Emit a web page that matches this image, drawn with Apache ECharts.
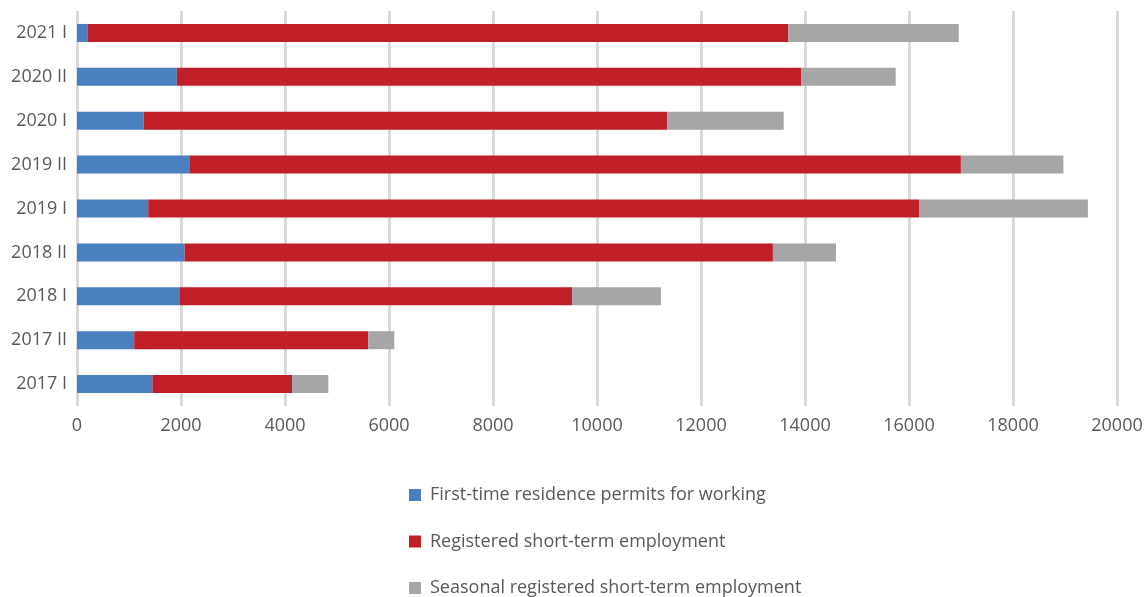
<!DOCTYPE html>
<html>
<head>
<meta charset="utf-8">
<script src="https://cdn.jsdelivr.net/npm/echarts@6/dist/echarts.min.js"></script>
<style>
html,body{margin:0;padding:0;background:#fff;}
#c{width:1148px;height:597px;}
</style>
</head>
<body>
<div id="c"></div>
<script>
const categories = ['2017 I','2017 II','2018 I','2018 II','2019 I','2019 II','2020 I','2020 II','2021 I'];
const seriesNames = ['First-time residence permits for working','Registered short-term employment','Seasonal registered short-term employment'];
const permits = [1450, 1100, 1980, 2070, 1370, 2160, 1280, 1920, 200];
const shortTerm = [2685, 4502, 7541, 11313, 14822, 14838, 10068, 12005, 13479];
const seasonal = [698, 500, 1708, 1213, 3248, 1971, 2242, 1819, 3278];
const colors = ['#4a7fc0', '#c01f27', '#a6a6a6'];

const chart = echarts.init(document.getElementById('c'), null, {renderer:'canvas'});
const font = '"Open Sans", sans-serif';
const values = [permits, shortTerm, seasonal];
chart.setOption({
  animation: false,
  color: colors,
  grid: {left: 77, right: 31, top: 11, bottom: 191, containLabel: false},
  xAxis: {
    type: 'value', min: 0, max: 20000, interval: 2000,
    axisLine: {show: false}, axisTick: {show: false},
    splitLine: {show: true, lineStyle: {color: '#d9d9d9', width: 3}},
    axisLabel: {color: '#595959', fontSize: 18, fontFamily: font, margin: 11,
      formatter: v => String(v)}
  },
  yAxis: {
    type: 'category', data: categories,
    axisLine: {show: false}, axisTick: {show: false},
    axisLabel: {color: '#595959', fontSize: 18, fontFamily: font, margin: 10}
  },
  legend: {
    orient: 'vertical', left: 409, top: 486, padding: 0,
    itemWidth: 12, itemHeight: 12, itemGap: 28.5, icon: 'rect',
    textStyle: {color: '#595959', fontSize: 18, lineHeight: 18, fontFamily: font, padding: [0,0,0,4]},
    data: seriesNames
  },
  series: seriesNames.map((n, i) => ({
    name: n, type: 'bar', stack: 'total', barWidth: 18,
    data: values[i]
  }))
});
</script>
</body>
</html>
